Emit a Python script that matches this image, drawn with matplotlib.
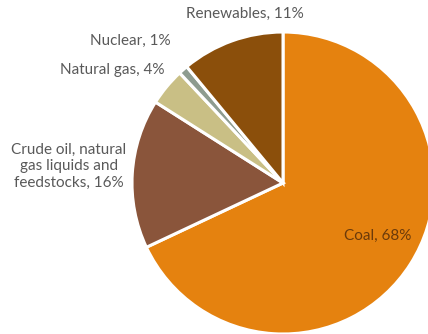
import matplotlib
matplotlib.use("Agg")
import matplotlib.pyplot as plt

labels = ["Coal", "Crude oil, natural\ngas liquids and\nfeedstocks", "Natural gas", "Nuclear", "Renewables"]
shares = [68, 16, 4, 1, 11]
colors = ["#E5820F", "#8A553B", "#C9BF85", "#8E9C90", "#8B4F0B"]

# where each label sits (data units, pie radius = 1)
label_pos = [(0.63, -0.35), (-1.42, 0.11), (-1.13, 0.75), (-1.01, 0.94), (-0.25, 1.12)]
label_col = ["#6B3A0A", "#595959", "#595959", "#595959", "#595959"]

plt.rcParams['font.family'] = ['Lato', 'DejaVu Sans']

fig = plt.figure(figsize=(4.28, 3.34), dpi=100)
ax = fig.add_axes([0, 0, 1, 1])
ax.pie(shares, colors=colors, startangle=90, counterclock=False, radius=1,
       wedgeprops=dict(edgecolor="white", linewidth=2.2))
for lab, v, (x, y), c in zip(labels, shares, label_pos, label_col):
  ax.text(x, y, "%s, %d%%" % (lab, v), ha="center", va="center",
          fontsize=11, color=c, linespacing=1.25)
ax.set_aspect("auto")
ax.set_xlim(-1.874, 0.960)
ax.set_ylim(-1.0, 1.212)
ax.axis("off")
fig.savefig("out.png", dpi=100)
